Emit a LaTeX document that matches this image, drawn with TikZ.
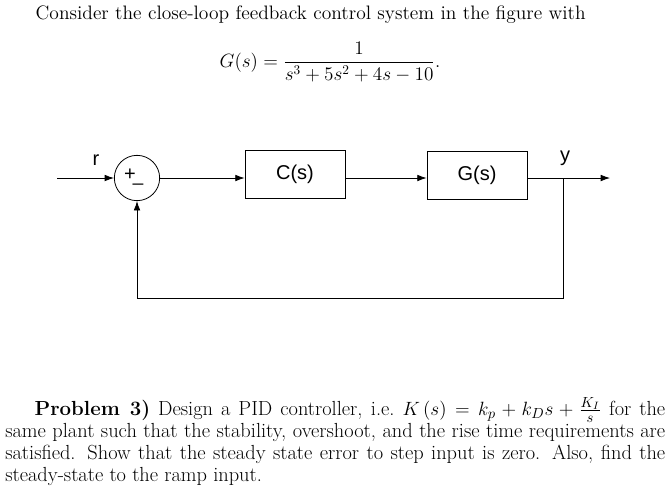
\documentclass[tikz,border=0pt]{standalone}
\usepackage{amsmath,amssymb}
\usepackage{fontspec}
\usetikzlibrary{calc,arrows.meta}
\newfontfamily\blocksf{Liberation Sans}
\tikzset{
  blk/.style={draw, semithick, minimum width=75pt, minimum height=36pt, font=\blocksf\fontsize{15}{17}\selectfont},
  sig/.style={font=\blocksf\fontsize{15}{17}\selectfont},
  txt/.style={font=\fontsize{14.6}{16.5}\selectfont},
  flow/.style={semithick, -{Latex[length=7pt,width=5pt]}}
}
\begin{document}
\begin{tikzpicture}[x=0.75pt,y=-0.75pt]
      \useasboundingbox (0,0) rectangle (670,490);
      \node (head) at (31,15) [txt, anchor=west] {Consider the close-loop feedback control system in the figure with};
      \node (gfrac) at (330,62) [txt] {$\displaystyle G(s)=\frac{1}{s^3+5s^2+4s-10}.$};
      \coordinate (in) at (57,178);
      \node (sum) at (137,178) [draw, semithick, circle, minimum size=34pt, inner sep=0pt] {};
      \draw (sum.center) ++(-7,-3) node [font=\blocksf\fontsize{15}{15}\selectfont] {+};
      \draw (sum.center) ++(1,5) node [font=\blocksf\fontsize{14}{14}\selectfont] {\_};
      \node (C) at (295,174) [blk] {C(s)};
      \node (G) at (477,175) [blk] {G(s)};
      \coordinate (br) at (563,178);
      \coordinate (out) at (610,178);
      \coordinate (bl) at (563,298);
      \coordinate (bs) at (137,298);
      \draw (96,160) node [sig] {r};
      \draw (565,158) node [sig] {y};
      \draw[flow] (in) to (sum);
      \draw[flow] (sum) to (sum -| C.west);
      \draw[flow] (C.east |- sum) to (G.west |- sum);
      \draw[flow] (G.east |- sum) to (out);
      \draw[flow] (br) to (bl) to (bs) to (sum);
      \node (prob) at (5,397) [anchor=north west, text width=495pt, align=justify, inner sep=0pt, font=\fontsize{15.3}{16.5}\selectfont]
        {\hspace*{22pt}\textbf{Problem 3)} Design a PID controller, i.e.\ $K\,(s)=k_p+k_Ds+\frac{K_I}{s}$ for the same plant such that the stability, overshoot, and the rise time requirements are satisfied. Show that the steady state error to step input is zero. Also, find the steady-state to the ramp input.};
    \end{tikzpicture}
\end{document}
